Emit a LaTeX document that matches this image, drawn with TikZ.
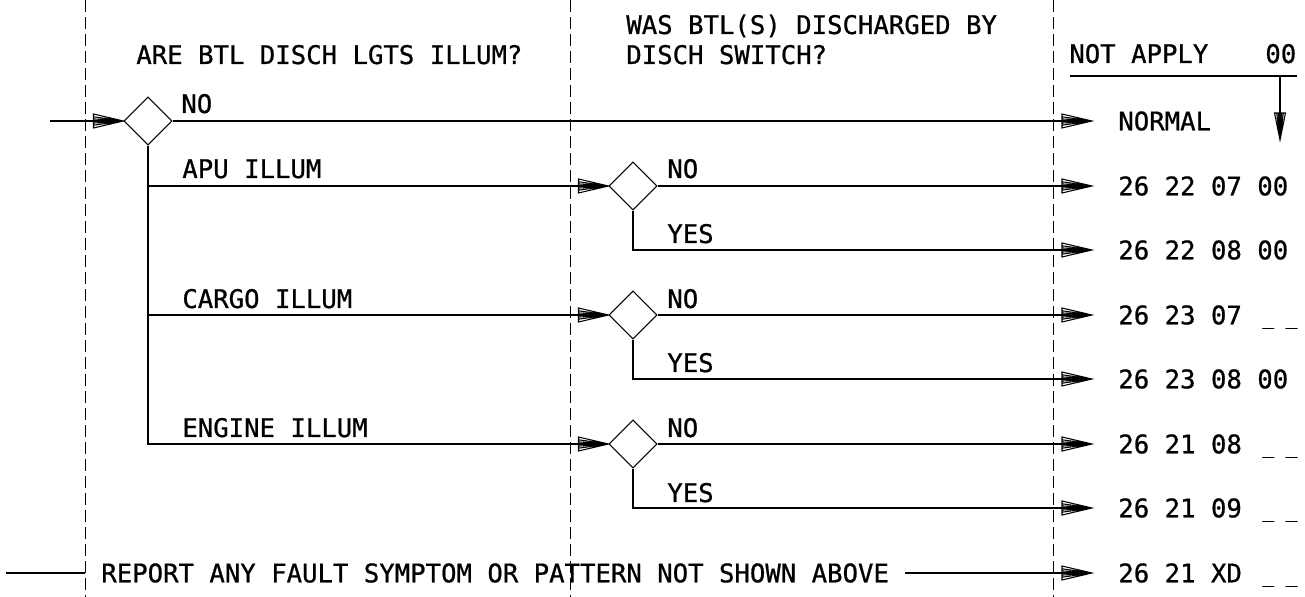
\documentclass[tikz,border=0pt]{standalone}
\usepackage{fontspec}
\setmainfont[FakeBold=0.8]{DejaVu Sans Mono}
\usetikzlibrary{arrows.meta, shapes.geometric}

% open arrow head filled with a fan of thin strokes
\pgfdeclarearrow{
  name = Fan,
  parameters = {\the\pgfarrowlength,\the\pgfarrowwidth},
  setup code = {
    \pgfarrowssettipend{0pt}
    \pgfarrowssetlineend{-\pgflinewidth}
    \pgfarrowssetbackend{-\pgfarrowlength}
    \pgfarrowsupperhullpoint{0pt}{0pt}
    \pgfarrowsupperhullpoint{-\pgfarrowlength}{.5\pgfarrowwidth}
    \pgfarrowssavethe\pgfarrowlength
    \pgfarrowssavethe\pgfarrowwidth
  },
  drawing code = {
    \pgfsetdash{}{0pt}
    \pgfpathmoveto{\pgfpoint{-\pgfarrowlength}{.5\pgfarrowwidth}}
    \pgfpathlineto{\pgfpointorigin}
    \pgfpathlineto{\pgfpoint{-\pgfarrowlength}{-.5\pgfarrowwidth}}
    \pgfpathclose
    \pgfpathmoveto{\pgfpointorigin}
    \pgfpathlineto{\pgfpoint{-\pgfarrowlength}{.3\pgfarrowwidth}}
    \pgfpathmoveto{\pgfpointorigin}
    \pgfpathlineto{\pgfpoint{-\pgfarrowlength}{.15\pgfarrowwidth}}
    \pgfpathmoveto{\pgfpointorigin}
    \pgfpathlineto{\pgfpoint{-\pgfarrowlength}{-.15\pgfarrowwidth}}
    \pgfpathmoveto{\pgfpointorigin}
    \pgfpathlineto{\pgfpoint{-\pgfarrowlength}{-.3\pgfarrowwidth}}
    \pgfusepathqstroke
  },
  defaults = {length=6mm, width=2.8mm}
}

\tikzset{
  dec/.style={diamond, draw, line width=0.6pt, minimum size=0.96cm, inner sep=0pt},
  flow/.style={-{Fan}, line width=0.6pt},
  wire/.style={line width=0.6pt},
  zone/.style={line width=0.5pt, dash pattern=on 0.24cm off 0.1cm},
  lbl/.style={anchor=base west, inner sep=0pt, font=\fontsize{14.6}{17}\selectfont},
  code/.style={anchor=west, inner ysep=0pt, inner xsep=0pt,
               font=\fontsize{14.6}{17}\selectfont},
  blank/.style={anchor=base west, inner sep=0pt, font=\fontsize{11}{13}\selectfont},
}

\begin{document}
\begin{tikzpicture}[x=0.02cm, y=-0.02cm]
  \useasboundingbox (0,0) rectangle (1305,597);

  % column boundaries
  \foreach \cx in {85,570,1053}
    \draw[zone] (\cx,0) -- (\cx,597);

  % headings
  \node[lbl] (h1) at (136,64) {ARE BTL DISCH LGTS ILLUM?};
  \node[lbl] (h2a) at (626,34) {WAS BTL(S) DISCHARGED BY};
  \node[lbl] (h2b) at (626,64) {DISCH SWITCH?};
  \node[lbl] (na) at (1069,63) {NOT APPLY};
  \node[lbl] (nz) at (1265,63) {00};
  \draw[wire] (1070,76) -- (1297,76);
  \coordinate (ntop) at (1280,76);
  \coordinate (nbot) at (1280,140);
  \draw[flow, -{Fan[length=5.4mm, width=2.2mm]}] (ntop) -- (nbot);

  % decisions
  \node[dec] (d0) at (148,121) {};
  \node[dec] (dapu) at (633,186) {};
  \node[dec] (dcgo) at (633,315) {};
  \node[dec] (deng) at (633,444) {};

  % result codes
  \node[code] (cn) at (1092,121) {\hspace{0.52cm}NORMAL};
  \node[code] (c1) at (1092,186) {\hspace{0.52cm}26 22 07 00};
  \node[code] (c2) at (1092,250) {\hspace{0.52cm}26 22 08 00};
  \node[code] (c3) at (1092,315) {\hspace{0.52cm}26 23 07};
  \node[code] (c4) at (1092,379) {\hspace{0.52cm}26 23 08 00};
  \node[code] (c5) at (1092,444) {\hspace{0.52cm}26 21 08};
  \node[code] (c6) at (1092,508) {\hspace{0.52cm}26 21 09};
  \node[code] (c7) at (1092,573) {\hspace{0.52cm}26 21 XD};
  \node[blank] (u3) at (1262,0 |- c3.base) {\_ \_};
  \node[blank] (u5) at (1262,0 |- c5.base) {\_ \_};
  \node[blank] (u6) at (1262,0 |- c6.base) {\_ \_};
  \node[blank] (u7) at (1262,0 |- c7.base) {\_ \_};

  % first question
  \coordinate (src) at (50,121);
  \draw[flow] (src) -- (d0.west);
  \draw[flow] (d0.east) -- (cn.west);
  \node[lbl] (l0) at (181,113) {NO};
  \draw[flow] (d0.south) |- (dapu.west);
  \draw[flow] (d0.south) |- (dcgo.west);
  \draw[flow] (d0.south) |- (deng.west);
  \node[lbl] (la) at (182,178) {APU ILLUM};
  \node[lbl] (lc) at (182,308) {CARGO ILLUM};
  \node[lbl] (le) at (182,437) {ENGINE ILLUM};

  % second question
  \draw[flow] (dapu.east) -- (c1.west);
  \draw[flow] (dapu.south) |- (c2.west);
  \draw[flow] (dcgo.east) -- (c3.west);
  \draw[flow] (dcgo.south) |- (c4.west);
  \draw[flow] (deng.east) -- (c5.west);
  \draw[flow] (deng.south) |- (c6.west);
  \foreach \yy/\nm in {178/an, 308/cn2, 437/en}
    \node[lbl] (\nm) at (667,\yy) {NO};
  \foreach \yy/\nm in {243/ay, 372/cy, 502/ey}
    \node[lbl] (\nm) at (667,\yy) {YES};

  % catch-all row
  \coordinate (rsrc) at (6,573);
  \node[anchor=west, inner ysep=0pt, inner xsep=0.32cm,
        font=\fontsize{14.6}{17}\selectfont] (rep) at (85,573)
        {REPORT ANY FAULT SYMPTOM OR PATTERN NOT SHOWN ABOVE};
  \draw[wire] (rsrc) -- (rep.west);
  \draw[flow] (rep.east) -- (c7.west);
\end{tikzpicture}
\end{document}
